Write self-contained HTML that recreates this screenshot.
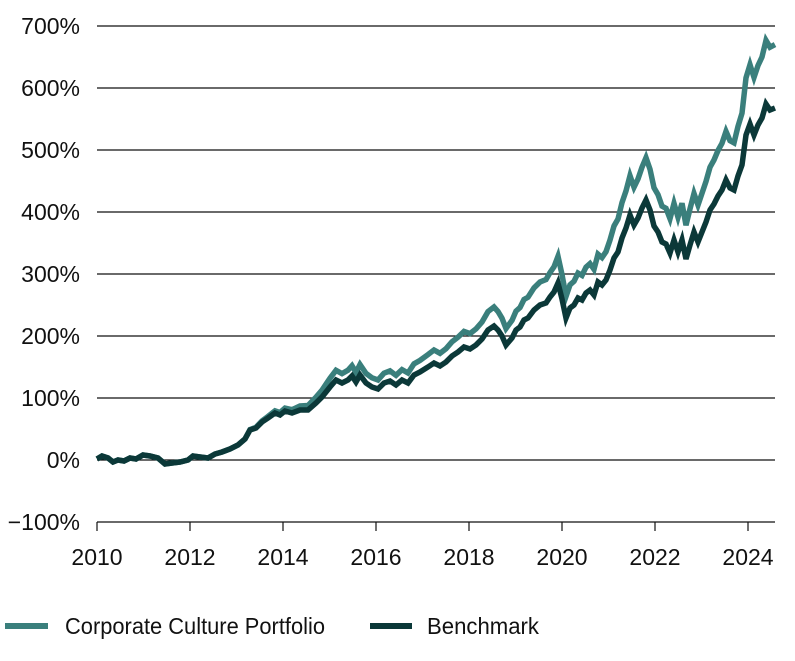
<!DOCTYPE html>
<html><head><meta charset="utf-8"><style>
body{margin:0;background:#fff;}
svg text{font-family:"Liberation Sans Narrow","Liberation Sans",sans-serif;font-size:23px;fill:#111;}
</style></head><body>
<svg width="795" height="656" xmlns="http://www.w3.org/2000/svg">
<g stroke="#111" stroke-width="1.2">
<line x1="97" x2="775" y1="26" y2="26"/><line x1="97" x2="775" y1="88" y2="88"/>
<line x1="97" x2="775" y1="150" y2="150"/><line x1="97" x2="775" y1="212" y2="212"/>
<line x1="97" x2="775" y1="274" y2="274"/><line x1="97" x2="775" y1="336" y2="336"/>
<line x1="97" x2="775" y1="398" y2="398"/><line x1="97" x2="775" y1="460" y2="460"/>
<line x1="97" x2="775" y1="522" y2="522"/>
<line x1="97" x2="97" y1="522" y2="531"/><line x1="190" x2="190" y1="522" y2="531"/>
<line x1="283" x2="283" y1="522" y2="531"/><line x1="376" x2="376" y1="522" y2="531"/>
<line x1="469" x2="469" y1="522" y2="531"/><line x1="562" x2="562" y1="522" y2="531"/>
<line x1="655" x2="655" y1="522" y2="531"/><line x1="748" x2="748" y1="522" y2="531"/>
</g>
<g text-anchor="end">
<text x="80" y="34">700%</text><text x="80" y="96">600%</text><text x="80" y="158">500%</text>
<text x="80" y="220">400%</text><text x="80" y="282">300%</text><text x="80" y="344">200%</text>
<text x="80" y="406">100%</text><text x="80" y="468">0%</text><text x="80" y="530">−100%</text>
</g>
<g text-anchor="middle">
<text x="97" y="565">2010</text><text x="190" y="565">2012</text><text x="283" y="565">2014</text>
<text x="376" y="565">2016</text><text x="469" y="565">2018</text><text x="562" y="565">2020</text>
<text x="655" y="565">2022</text><text x="748" y="565">2024</text>
</g>
<polyline id="teal" fill="none" stroke="#3a7f7c" stroke-width="5.5" stroke-linejoin="miter"/>
<polyline id="dark" fill="none" stroke="#0b3838" stroke-width="5.5" stroke-linejoin="miter"/>
<line x1="5" x2="48" y1="626" y2="626" stroke="#3a7f7c" stroke-width="6"/>
<text x="65" y="634" textLength="260" lengthAdjust="spacingAndGlyphs">Corporate Culture Portfolio</text>
<line x1="370" x2="412" y1="626" y2="626" stroke="#0b3838" stroke-width="6"/>
<text x="427" y="634" textLength="112" lengthAdjust="spacingAndGlyphs">Benchmark</text>
</svg>
<script>
var d=[[97,459],[102,456],[108,458],[113,462],[118,460],[124,461],[130,458],[136,459],[143,455],[150,456],[158,458],[165,464],[172,463],[180,462],[188,460],[193,456],[200,457],[208,458],[215,454],[222,452],[230,449],[238,445],[245,439],[250,430],[256,428],[262,422],[268,418],[275,413],[280,415],[285,411],[292,413],[300,410],[308,410],[316,403],[322,397],[330,387],[336,380],[342,383],[348,380],[352,376],[356,382],[360,375],[366,383],[372,387],[378,389],[384,383],[390,381],[396,385],[402,380],[408,383],[414,375],[420,372],[428,367],[434,363],[440,366],[446,362],[452,356],[458,352],[464,347],[470,349],[476,345],[482,339],[488,330],[494,326],[498,330],[502,336],[506,345],[512,338],[516,330],[520,327],[524,320],[528,318],[534,310],[540,305],[546,303],[550,297],[554,292],[558,283],[562,299],[566,318],[570,308],[574,305],[578,298],[582,300],[586,293],[590,290],[594,295],[598,282],[602,285],[606,280],[610,270],[614,258],[618,252],[622,238],[626,228],[630,215],[634,225],[638,218],[642,208],[646,200],[650,210],[654,226],[658,232],[662,242],[666,244],[670,253],[674,240],[678,252],[682,240],[686,259],[690,245],[694,232],[698,242],[702,232],[706,222],[710,210],[714,204],[718,196],[722,190],[726,180],[730,188],[734,190],[738,176],[742,165],[746,135],[750,124],[754,135],[758,125],[762,118],[766,104],[770,110],[775,108]];
function f(x){if(x<240)return 1;if(x<330)return 1+0.12*(x-240)/90;return 1.12+0.06*(x-330)/445;}
document.getElementById('dark').setAttribute('points',d.map(p=>p.join(',')).join(' '));
document.getElementById('teal').setAttribute('points',d.map(p=>p[0]+','+(460-(460-p[1])*f(p[0])).toFixed(1)).join(' '));
</script>
</body></html>
